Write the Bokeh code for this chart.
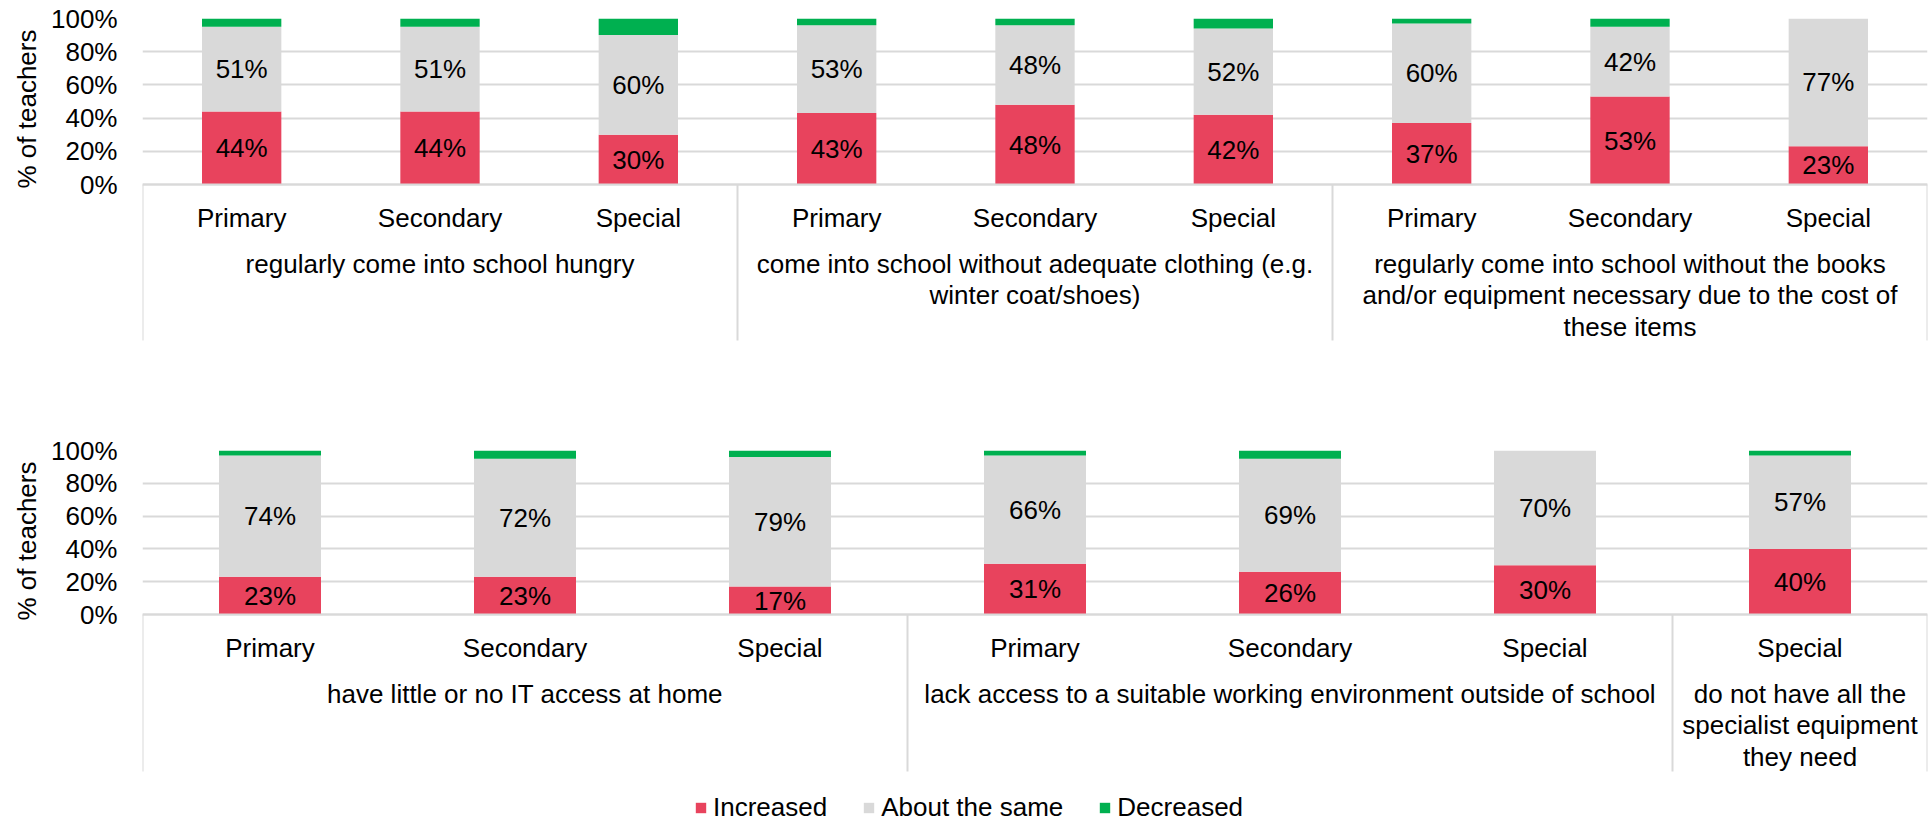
from bokeh.plotting import figure
from bokeh.models import (ColumnDataSource, Range1d, FixedTicker, PrintfTickFormatter,
                          Title, Legend, LegendItem)
from bokeh.layouts import column
from bokeh.embed import file_html
from bokeh.resources import INLINE
from bokeh.core.properties import value

# ---------------- data ----------------
series_names = ["Increased", "About the same", "Decreased"]

top_groups = [
    "regularly come into school hungry",
    "come into school without adequate clothing (e.g.\nwinter coat/shoes)",
    "regularly come into school without the books\nand/or equipment necessary due to the cost of\nthese items",
]
top_group_sizes = [3, 3, 3]
top_subcats = ["Primary", "Secondary", "Special",
               "Primary", "Secondary", "Special",
               "Primary", "Secondary", "Special"]
top_increased = [44, 44, 30, 43, 48, 42, 37, 53, 23]
top_same = [51, 51, 60, 53, 48, 52, 60, 42, 77]
top_decreased = [5, 5, 10, 4, 4, 6, 3, 5, 0]

bot_groups = [
    "have little or no IT access at home",
    "lack access to a suitable working environment outside of school",
    "do not have all the\nspecialist equipment\nthey need",
]
bot_group_sizes = [3, 3, 1]
bot_subcats = ["Primary", "Secondary", "Special",
               "Primary", "Secondary", "Special",
               "Special"]
bot_increased = [23, 23, 17, 31, 26, 30, 40]
bot_same = [74, 72, 79, 66, 69, 70, 57]
bot_decreased = [3, 5, 4, 3, 5, 0, 3]

y_ticks = [0, 20, 40, 60, 80, 100]
y_title = "% of teachers"

# ---------------- style ----------------
FONT = "Liberation Sans"
FS = "26px"
COLORS = ["#E8435D", "#D9D9D9", "#00B050"]
LINE = "#D9D9D9"
W = 1930
LEFT = 142
RIGHT = 3


def make_panel(subcats, groups, sizes, inc, same, dec, top_b, plot_px, below_px,
               line_px, title_offset, group_y):
    n = len(subcats)
    ppu = plot_px / 100.0
    height = top_b + plot_px + below_px
    p = figure(width=W, height=height, x_range=Range1d(0, n),
               y_range=Range1d(-below_px / ppu, 100),
               output_backend="svg", toolbar_location=None, x_axis_location=None,
               title=None, min_border_left=LEFT, min_border_right=RIGHT,
               min_border_top=top_b, min_border_bottom=0)
    p.outline_line_color = None
    p.xgrid.visible = False

    ax = p.yaxis[0]
    ax.ticker = FixedTicker(ticks=y_ticks)
    ax.formatter = PrintfTickFormatter(format="%d%%")
    ax.axis_line_color = None
    ax.major_tick_line_color = None
    ax.minor_tick_line_color = None
    ax.major_tick_in = 0
    ax.major_tick_out = 0
    ax.major_label_standoff = 25
    ax.major_label_text_font = FONT
    ax.major_label_text_font_size = FS
    ax.major_label_text_color = "black"
    p.ygrid.grid_line_color = LINE
    p.ygrid.grid_line_width = 2

    xs = [i + 0.5 for i in range(n)]
    src = ColumnDataSource(dict(x=xs, inc=inc, same=same, dec=dec))
    p.vbar_stack(["inc", "same", "dec"], x="x", width=0.4, color=COLORS,
                 line_width=0, source=src)

    # data labels (Increased / About the same)
    lx, ly, lt = [], [], []
    for i in range(n):
        if inc[i] > 0:
            lx.append(xs[i]); ly.append(inc[i] / 2.0); lt.append(f"{inc[i]}%")
        if same[i] > 0:
            lx.append(xs[i]); ly.append(inc[i] + same[i] / 2.0); lt.append(f"{same[i]}%")
    p.text(x=lx, y=ly, text=lt, text_font=value(FONT), text_font_size=FS,
           text_color="black", text_align="center", text_baseline="middle")

    # category box
    bounds = [0]
    for s in sizes:
        bounds.append(bounds[-1] + s)
    y_bot = -line_px / ppu
    p.segment(x0=bounds, y0=[0] * len(bounds), x1=bounds, y1=[y_bot] * len(bounds),
              line_color=LINE, line_width=2)
    p.segment(x0=[0], y0=[0], x1=[n], y1=[0], line_color=LINE, line_width=2)

    p.text(x=xs, y=[-33 / ppu] * n, text=subcats, text_font=value(FONT),
           text_font_size=FS, text_color="black", text_align="center",
           text_baseline="middle")
    gx = [(bounds[k] + bounds[k + 1]) / 2.0 for k in range(len(sizes))]
    p.text(x=gx, y=[-group_y / ppu] * len(gx), text=groups, text_font=value(FONT),
           text_font_size=FS, text_color="black", text_align="center",
           text_baseline="top", text_line_height=1.06)

    # y axis title
    p.add_layout(Title(text=y_title, align="left", offset=title_offset,
                       text_font=FONT, text_font_size=FS, text_font_style="normal",
                       text_color="black", standoff=14), "left")
    return p


p_top = make_panel(top_subcats, top_groups, top_group_sizes, top_increased, top_same,
                   top_decreased, top_b=18, plot_px=166, below_px=165, line_px=156,
                   title_offset=161, group_y=64)
p_bot = make_panel(bot_subcats, bot_groups, bot_group_sizes, bot_increased, bot_same,
                   bot_decreased, top_b=101, plot_px=164, below_px=171, line_px=157,
                   title_offset=165, group_y=64)

# legend strip: hidden stacked renderers of the top data provide the swatches
p_leg = figure(width=W, height=37, x_range=Range1d(0, len(top_increased)),
               y_range=Range1d(0, 100),
               output_backend="svg", toolbar_location=None, x_axis_location=None,
               y_axis_location=None, title=None, min_border_left=LEFT,
               min_border_right=RIGHT, min_border_top=0, min_border_bottom=0)
p_leg.outline_line_color = None
p_leg.xgrid.visible = False
p_leg.ygrid.visible = False
leg_src = ColumnDataSource(dict(x=[i + 0.5 for i in range(len(top_increased))],
                                inc=top_increased, same=top_same, dec=top_decreased))
leg_rs = p_leg.vbar_stack(["inc", "same", "dec"], x="x", width=0.4, color=COLORS,
                          line_width=0, source=leg_src)
for r in leg_rs:
    r.visible = False
items = [LegendItem(label=nm, renderers=[r]) for nm, r in zip(series_names, leg_rs)]
leg = Legend(items=items, orientation="horizontal", location=(552, -1),
             label_text_font=FONT, label_text_font_size=FS,
             label_text_color="black", glyph_width=13, glyph_height=13,
             label_standoff=6, spacing=35, padding=0, margin=0,
             border_line_color=None, background_fill_alpha=0,
             click_policy="none", inactive_fill_alpha=0)
p_leg.add_layout(leg, "center")

layout = column(p_top, p_bot, p_leg, spacing=0)
open("out.html", "w").write(file_html(layout, INLINE))
